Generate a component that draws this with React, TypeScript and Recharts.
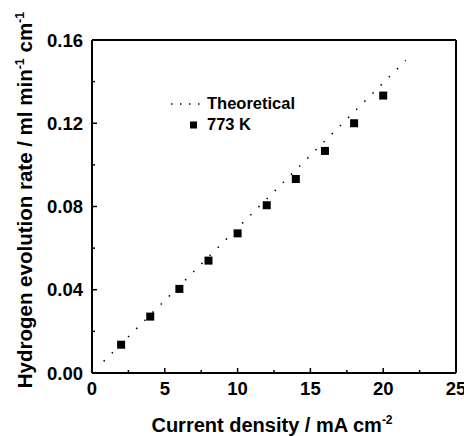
import React from 'react';
import { ScatterChart, Scatter, XAxis, YAxis, Legend } from 'recharts';

if (typeof document !== 'undefined') {
  document.body.style.margin = '0';
}

const measured = [
  { x: 2, y: 0.0136 },
  { x: 4, y: 0.0271 },
  { x: 6, y: 0.0404 },
  { x: 8, y: 0.054 },
  { x: 10, y: 0.0671 },
  { x: 12, y: 0.0806 },
  { x: 14, y: 0.0932 },
  { x: 16, y: 0.1067 },
  { x: 18, y: 0.120 },
  { x: 20, y: 0.1333 },
];

const theoretical = [
  { x: 0.8, y: 0.0056 },
  { x: 21.55, y: 0.1502 },
];

const xMajor = [0, 5, 10, 15, 20, 25];
const xMinor = [2.5, 7.5, 12.5, 17.5, 22.5];
const yMajor = [0, 0.04, 0.08, 0.12, 0.16];
const yMinor = [0.02, 0.06, 0.1, 0.14];

const FONT = '"Liberation Sans", Arial, Helvetica, sans-serif';

const XTick = (props: any) => {
  const { x, y, payload } = props;
  const v = payload.value;
  const major = xMajor.some((m) => Math.abs(m - v) < 1e-9);
  const axisY = y - 8;
  return (
    <g>
      <line x1={x} x2={x} y1={axisY} y2={axisY - (major ? 5 : 3)} stroke="#000" strokeWidth={1.5} />
      {major && (
        <text x={x} y={y + 14} textAnchor="middle" fontFamily={FONT} fontWeight="bold" fontSize={18.5} fill="#000">
          {v}
        </text>
      )}
    </g>
  );
};

const YTick = (props: any) => {
  const { x, y, payload } = props;
  const v = payload.value;
  const major = yMajor.some((m) => Math.abs(m - v) < 1e-9);
  const axisX = x + 9;
  return (
    <g>
      <line x1={axisX} x2={axisX + (major ? 5 : 3)} y1={y} y2={y} stroke="#000" strokeWidth={1.5} />
      {major && (
        <text x={x} y={y + 6.5} textAnchor="end" fontFamily={FONT} fontWeight="bold" fontSize={18.5} fill="#000">
          {v.toFixed(2)}
        </text>
      )}
    </g>
  );
};

const XLabel = () => (
  <text x={272} y={432} textAnchor="middle" fontFamily={FONT} fontWeight="bold" fontSize={20} fill="#000">
    Current density / mA cm
    <tspan dy={-8} fontSize={12}>-2</tspan>
  </text>
);

const YLabel = () => (
  <text
    x={32}
    y={200}
    transform="rotate(-90, 32, 200)"
    textAnchor="middle"
    fontFamily={FONT}
    fontWeight="bold"
    fontSize={20.5}
    fill="#000"
  >
    Hydrogen evolution rate / ml min
    <tspan dy={-8} fontSize={12.5}>-1</tspan>
    <tspan dy={8}> cm</tspan>
    <tspan dy={-8} fontSize={12.5}>-1</tspan>
  </text>
);

const LegendBox = () => (
  <div style={{ fontFamily: FONT, fontWeight: 'bold', fontSize: 16.5, color: '#000', lineHeight: '21px' }}>
    <div style={{ display: 'flex', alignItems: 'center', height: 21 }}>
      <svg width={37} height={10} style={{ display: 'block' }}>
        <line x1={1} x2={30} y1={5} y2={5} stroke="#000" strokeWidth={1.5} strokeDasharray="1.5 7.5" />
      </svg>
      <span>Theoretical</span>
    </div>
    <div style={{ display: 'flex', alignItems: 'center', height: 21 }}>
      <svg width={37} height={10} style={{ display: 'block' }}>
        <rect x={20} y={1.5} width={7} height={7} fill="#000" />
      </svg>
      <span>773 K</span>
    </div>
  </div>
);

const Square = (p: any) => <rect x={p.cx - 4} y={p.cy - 4} width={8} height={8} fill="#000" />;
const NoShape = () => <g />;

export default function App() {
  const xTicks = [...xMajor, ...xMinor].sort((a, b) => a - b);
  const yTicks = [...yMajor, ...yMinor].sort((a, b) => a - b);
  return (
    <div style={{ width: 464, height: 436, background: '#fff' }}>
      <ScatterChart width={464} height={436} margin={{ top: 39, right: 7, bottom: 0, left: 0 }}>
        <XAxis
          type="number"
          dataKey="x"
          domain={[0, 25]}
          ticks={xTicks}
          interval={0}
          tickSize={0}
          tickMargin={8}
          tickLine={false}
          tick={<XTick />}
          axisLine={{ stroke: '#000', strokeWidth: 2 }}
          height={63}
          label={<XLabel />}
          allowDataOverflow
        />
        <XAxis
          xAxisId="top"
          orientation="top"
          type="number"
          domain={[0, 25]}
          height={1}
          tick={false}
          tickLine={false}
          axisLine={{ stroke: '#000', strokeWidth: 2 }}
        />
        <YAxis
          type="number"
          dataKey="y"
          domain={[0, 0.16]}
          ticks={yTicks}
          interval={0}
          tickSize={0}
          tickMargin={9}
          tickLine={false}
          tick={<YTick />}
          axisLine={{ stroke: '#000', strokeWidth: 2 }}
          width={92}
          label={<YLabel />}
          allowDataOverflow
        />
        <YAxis
          yAxisId="right"
          orientation="right"
          type="number"
          domain={[0, 0.16]}
          width={1}
          tick={false}
          tickLine={false}
          axisLine={{ stroke: '#000', strokeWidth: 2 }}
        />
        <Scatter
          name="Theoretical"
          data={theoretical}
          line={{ stroke: '#000', strokeWidth: 1.5, strokeDasharray: '1.5 10' }}
          shape={<NoShape />}
          isAnimationActive={false}
          legendType="none"
        />
        <Scatter name="773 K" data={measured} shape={<Square />} fill="#000" isAnimationActive={false} />
        <Legend
          layout="horizontal"
          verticalAlign="middle"
          align="center"
          content={<LegendBox />}
          wrapperStyle={{ left: 170, top: 93, width: 140, height: 42 }}
        />
      </ScatterChart>
    </div>
  );
}
